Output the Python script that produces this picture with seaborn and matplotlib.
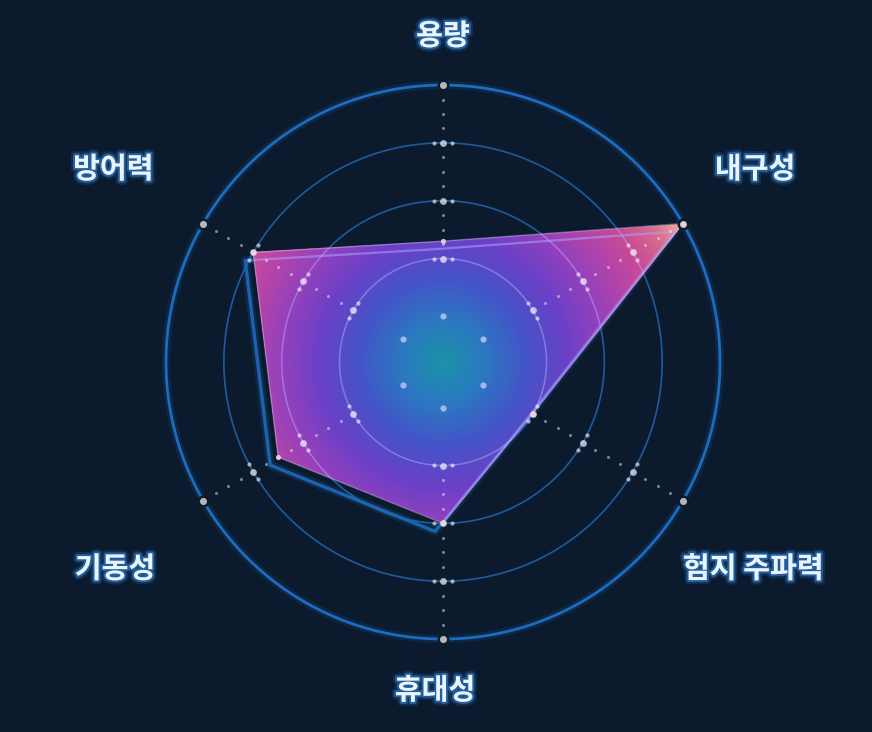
import numpy as np
import matplotlib
matplotlib.use('Agg')
import matplotlib.pyplot as plt
import matplotlib.patheffects as pe
from matplotlib.colors import LinearSegmentedColormap
from matplotlib.transforms import offset_copy
import seaborn as sns

# radar data (scale 0-5)
categories = ['용량', '내구성', '험지 주파력', '휴대성', '기동성', '방어력']
values = [2.3, 5.0, 2.0, 3.0, 3.5, 4.0]
levels = [1, 2, 3, 4, 5]

BG = '#0b1b2d'
R_MIN = 0.21

sns.set_theme(style='dark', rc={'figure.facecolor': BG, 'axes.facecolor': BG})
plt.rcParams['font.family'] = ['Noto Sans CJK KR', 'DejaVu Sans']

fig = plt.figure(figsize=(8.72, 7.32), dpi=100, facecolor=BG)
ax = fig.add_axes([0.1904, 0.1270, 0.6353, 0.7568], projection='polar')
ax.set_facecolor('none')
ax.set_theta_offset(np.pi / 2)
ax.set_theta_direction(-1)
ax.set_ylim(R_MIN, levels[-1])
ax.grid(False)
ax.spines['polar'].set_visible(False)
ax.set_xticks([])
ax.set_yticks([])

n = len(categories)
angles = np.arange(n) * 2 * np.pi / n
theta_c = np.append(angles, 2 * np.pi)
vals_c = np.append(values, values[0])
full = np.linspace(0, 2 * np.pi, 721)

# polygon (used as clip path for gradient)
poly = ax.fill(theta_c, vals_c, facecolor='none', edgecolor='none', zorder=2)[0]

# rings under the fill
for lv in levels[1:-1]:
    ax.plot(full, np.full_like(full, lv), color='#2062a8', lw=1.2, alpha=0.9, zorder=1)
ax.plot(full, np.full_like(full, levels[-1]), color='#1e78d8', lw=6, alpha=0.12,
        zorder=1, clip_on=False)
ax.plot(full, np.full_like(full, levels[-1]), color='#1d6cc0', lw=2.0, zorder=1,
        clip_on=False)

# shadow outline of the series (below the fill)
shift = offset_copy(ax.transData, fig=fig, x=-8, y=-8, units='dots')
sns.lineplot(x=theta_c, y=vals_c, sort=False, estimator=None, ax=ax,
             color='#1e7ae0', lw=6, alpha=0.16, zorder=2)
ax.lines[-1].set_transform(shift)
sns.lineplot(x=theta_c, y=vals_c, sort=False, estimator=None, ax=ax,
             color='#1f66b4', lw=2.4, alpha=0.95, zorder=2)
ax.lines[-1].set_transform(shift)

# radial gradient fill
grad = LinearSegmentedColormap.from_list('grad', [
    (0.00, '#1a92a8'), (0.15, '#2a78c0'), (0.30, '#4454c8'),
    (0.45, '#6a40c6'), (0.58, '#9240bc'), (0.70, '#b444a8'),
    (0.80, '#c84c94'), (0.90, '#d66a8e'), (1.00, '#eeb096')])
tg = np.linspace(0, 2 * np.pi, 241)
rg = np.linspace(R_MIN, levels[-1], 160)
T, Rr = np.meshgrid(tg, rg)
C = 0.5 * (rg[:-1] + rg[1:])[:, None] * np.ones((1, len(tg) - 1))
mesh = ax.pcolormesh(T, Rr, C, cmap=grad, vmin=R_MIN, vmax=levels[-1],
                     shading='flat', zorder=3, antialiased=False)
mesh.set_clip_path(poly)

# rings seen through the fill
for lv in levels[1:-1]:
    ln, = ax.plot(full, np.full_like(full, lv), color='#b8a8ff', lw=1.1, alpha=0.5, zorder=4)
    ln.set_clip_path(poly)

# shadow line seen through the fill
sns.lineplot(x=theta_c, y=vals_c, sort=False, estimator=None, ax=ax,
             color='#aaa4ff', lw=1.6, alpha=0.55, zorder=6)
ax.lines[-1].set_transform(shift)
ax.lines[-1].set_clip_path(poly)

# thin polygon edge
ax.plot(theta_c, vals_c, color='#e0d0ff', lw=1.0, alpha=0.4, zorder=6, clip_on=False)

# spoke dots
small_t, small_r = [], []
for a in angles:
    for lv in levels[1:-1]:
        for q in (0.25, 0.5, 0.75):
            small_t.append(a)
            small_r.append(lv + q)
sns.scatterplot(x=small_t, y=small_r, ax=ax, s=5, color='white', alpha=0.45,
                linewidth=0, zorder=7)

px_per_unit = 0.6353 * 872 / 2 / (levels[-1] - R_MIN)
side_t, side_r = [], []
for a in angles:
    for lv in levels[1:-1]:
        d = 9.0 / ((lv - R_MIN) * px_per_unit)
        side_t += [a - d, a + d]
        side_r += [lv, lv]
sns.scatterplot(x=side_t, y=side_r, ax=ax, s=9, color='white', alpha=0.6,
                linewidth=0, zorder=7)

big_t = np.repeat(angles, len(levels) - 2)
big_r = np.tile(levels[1:-1], n)
sns.scatterplot(x=big_t, y=big_r, ax=ax, s=24, color='white', alpha=0.68,
                linewidth=0, zorder=7)
outer = np.full(n, levels[-1])
sns.scatterplot(x=angles, y=outer, ax=ax, s=75, color=BG, linewidth=0, zorder=7,
                clip_on=False)
sns.scatterplot(x=angles, y=outer, ax=ax, s=26, color='#b4b6ba', linewidth=0, zorder=8,
                clip_on=False)
sns.scatterplot(x=angles, y=np.full(n, levels[0]), ax=ax, s=20, color='#b8c4f4',
                alpha=0.85, linewidth=0, zorder=7)

# vertex markers
sns.scatterplot(x=angles, y=values, ax=ax, s=14, color='#f6d0e0', alpha=0.9,
                linewidth=0, zorder=9, clip_on=False)

# axis names
label_xy = [(0.508, 0.951), (0.866, 0.769), (0.864, 0.223),
            (0.499, 0.057), (0.132, 0.223), (0.130, 0.769)]
glow = [pe.Stroke(linewidth=6, foreground='#2a86ff', alpha=0.18),
        pe.Stroke(linewidth=3, foreground='#4aa6ff', alpha=0.4),
        pe.Normal()]
for name, (fx, fy) in zip(categories, label_xy):
    fig.text(fx, fy, name, ha='center', va='center', fontsize=21,
             fontweight='bold', color='#e8f5ff', path_effects=glow)

fig.savefig('out.png', dpi=100, facecolor=BG)
